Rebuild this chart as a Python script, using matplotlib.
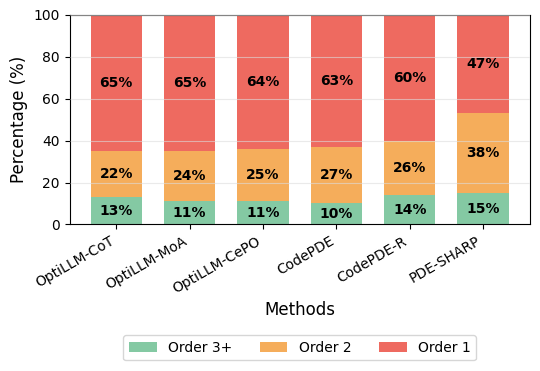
import matplotlib
matplotlib.use("Agg")
import matplotlib.pyplot as plt
import numpy as np

methods = ["OptiLLM-CoT", "OptiLLM-MoA", "OptiLLM-CePO", "CodePDE", "CodePDE-R", "PDE-SHARP"]
order3 = [13, 11, 11, 10, 14, 15]
order2 = [22, 24, 25, 27, 26, 38]
order1 = [65, 65, 64, 63, 60, 47]

colors = ["#84c9a3", "#f5ad5b", "#ee6a60"]

fig = plt.figure(figsize=(5.4, 3.71), dpi=100)
ax = fig.add_axes([0.129, 0.395, 0.852, 0.565])
x = np.arange(len(methods))
w = 0.7
b3 = ax.bar(x, order3, w, color=colors[0], label="Order 3+", zorder=2)
b2 = ax.bar(x, order2, w, bottom=order3, color=colors[1], label="Order 2", zorder=2)
bottom1 = np.array(order3) + np.array(order2)
b1 = ax.bar(x, order1, w, bottom=bottom1, color=colors[2], label="Order 1", zorder=2)

for bars, vals, bots in [(b3, order3, np.zeros(6)), (b2, order2, np.array(order3)), (b1, order1, bottom1)]:
    for xi, v, b in zip(x, vals, bots):
        ax.text(xi, b + v / 2, f"{v}%", ha="center", va="center", fontsize=10, fontweight="bold", zorder=4)

ax.set_ylim(0, 100)
ax.set_yticks([0, 20, 40, 60, 80, 100])
ax.yaxis.grid(True, color="#dddddd", linewidth=0.8, alpha=0.6, zorder=3)
ax.set_axisbelow(False)
ax.set_xticks(x)
ax.set_xticklabels(methods, rotation=30, ha="right", fontsize=10)
ax.set_ylabel("Percentage (%)", fontsize=12)
ax.set_xlabel("Methods", fontsize=12)
fig.legend(handles=[b3, b2, b1], loc="lower center", bbox_to_anchor=(0.555, 0.01), ncol=3, fontsize=10, frameon=True)
fig.savefig("out.png", dpi=100)
